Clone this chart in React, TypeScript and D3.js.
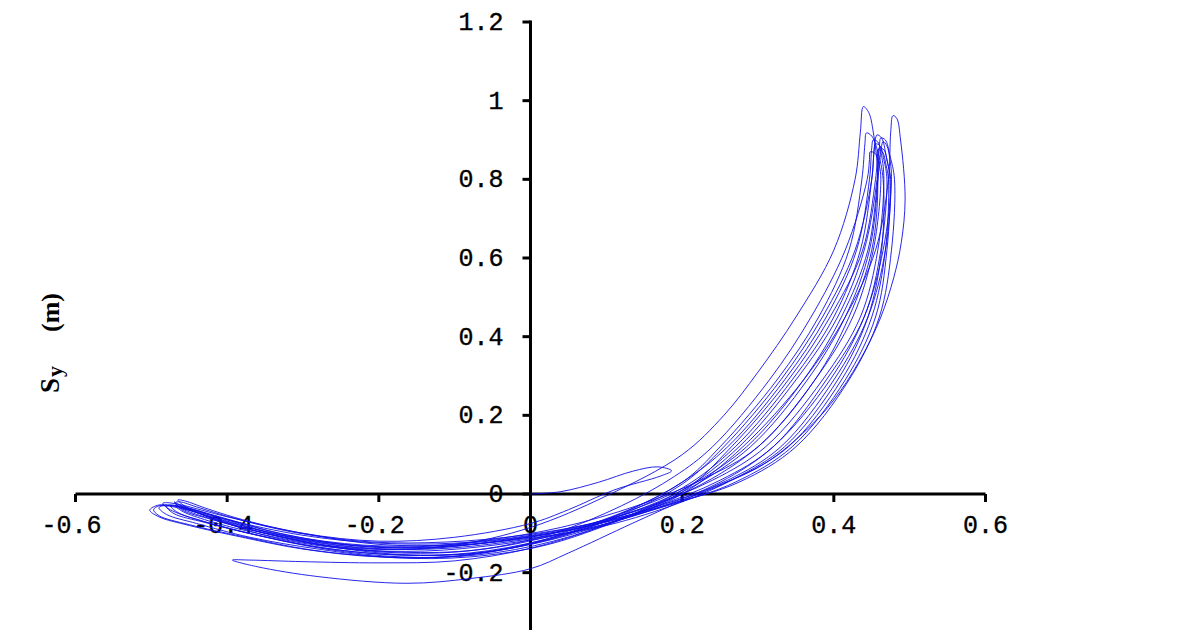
import React from "react";
import * as d3 from "d3";

type Pt = [number, number];

// Axis tick values
const xTicks: number[] = [-0.6, -0.4, -0.2, 0, 0.2, 0.4, 0.6];
const yTicks: number[] = [-0.2, 0, 0.2, 0.4, 0.6, 0.8, 1, 1.2];
const yTickLabels: string[] = ["-0.2", "0", "0.2", "0.4", "0.6", "0.8", "1", "1.2"];
const xTickLabels: string[] = ["-0.6", "-0.4", "-0.2", "0", "0.2", "0.4", "0.6"];

// Trajectory (Sx, Sy) in metres, swing by swing
const startPath: Pt[] = [
  [0, 0], [0.04, 0.006], [0.09, 0.03], [0.135, 0.058], [0.168, 0.069], [0.186, 0.059],
  [0.172, 0.046], [0.11, 0.01], [0.05, -0.04], [0.0, -0.075], [-0.1, -0.11], [-0.2, -0.12],
  [-0.3, -0.1], [-0.38, -0.065], [-0.43, -0.035], [-0.455, -0.018], [-0.465, -0.015],
];
const swing1: Pt[] = [
  [-0.458, -0.028], [-0.43, -0.055], [-0.38, -0.085], [-0.3, -0.118], [-0.2, -0.14], [-0.1, -0.13],
  [0.0, -0.085], [0.1, -0.005], [0.2, 0.1], [0.255, 0.2], [0.3, 0.31], [0.35, 0.45], [0.4, 0.62],
  [0.428, 0.8], [0.435, 0.92], [0.439, 0.985],
  [0.446, 0.97], [0.452, 0.92], [0.458, 0.8], [0.45, 0.62], [0.42, 0.45], [0.375, 0.29], [0.3, 0.12],
  [0.2, 0.0], [0.1, -0.065], [0.0, -0.105], [-0.1, -0.125], [-0.2, -0.125], [-0.3, -0.105],
  [-0.4, -0.065], [-0.455, -0.035], [-0.49, -0.028], [-0.502, -0.041],
];
const swing2: Pt[] = [
  [-0.49, -0.058], [-0.45, -0.08], [-0.38, -0.11], [-0.3, -0.14], [-0.2, -0.16], [-0.1, -0.158],
  [0.0, -0.125], [0.1, -0.065], [0.2, 0.03], [0.25, 0.12], [0.325, 0.29], [0.38, 0.45], [0.42, 0.62],
  [0.437, 0.8], [0.441, 0.89], [0.443, 0.918],
  [0.45, 0.91], [0.458, 0.87], [0.465, 0.8], [0.463, 0.62], [0.445, 0.45], [0.405, 0.29], [0.335, 0.12],
  [0.27, 0.04], [0.2, -0.02], [0.1, -0.08], [0.0, -0.112], [-0.1, -0.13], [-0.2, -0.128], [-0.3, -0.1],
  [-0.4, -0.058], [-0.46, -0.028], [-0.48, -0.022], [-0.485, -0.024],
];
const swing3: Pt[] = [
  [-0.475, -0.04], [-0.44, -0.065], [-0.37, -0.1], [-0.28, -0.135], [-0.18, -0.155], [-0.08, -0.15],
  [0.02, -0.115], [0.12, -0.05], [0.2, 0.015], [0.27, 0.12], [0.345, 0.29], [0.4, 0.45], [0.435, 0.62],
  [0.45, 0.8], [0.454, 0.89], [0.457, 0.913],
  [0.463, 0.905], [0.469, 0.86], [0.474, 0.8], [0.47, 0.62], [0.455, 0.45], [0.415, 0.29], [0.345, 0.12],
  [0.27, 0.03], [0.18, -0.03], [0.08, -0.08], [-0.02, -0.112], [-0.12, -0.13], [-0.22, -0.13],
  [-0.32, -0.105], [-0.4, -0.065], [-0.45, -0.04], [-0.47, -0.03], [-0.475, -0.03],
];
const swing4: Pt[] = [
  [-0.465, -0.047], [-0.43, -0.07], [-0.36, -0.105], [-0.27, -0.14], [-0.17, -0.16], [-0.07, -0.155],
  [0.03, -0.12], [0.13, -0.055], [0.21, 0.02], [0.285, 0.12], [0.36, 0.29], [0.41, 0.45], [0.445, 0.62],
  [0.458, 0.8], [0.462, 0.87], [0.465, 0.896],
  [0.47, 0.885], [0.474, 0.85], [0.476, 0.8], [0.465, 0.62], [0.44, 0.45], [0.395, 0.29], [0.32, 0.12],
  [0.25, 0.03], [0.16, -0.04], [0.06, -0.095], [-0.04, -0.128], [-0.14, -0.145], [-0.24, -0.14],
  [-0.34, -0.11], [-0.41, -0.068], [-0.455, -0.035], [-0.468, -0.022], [-0.47, -0.02],
];
const swing5: Pt[] = [
  [-0.462, -0.035], [-0.43, -0.058], [-0.36, -0.095], [-0.27, -0.13], [-0.17, -0.148], [-0.07, -0.142],
  [0.03, -0.105], [0.13, -0.04], [0.2, 0.03], [0.26, 0.12], [0.335, 0.29], [0.39, 0.45], [0.43, 0.62],
  [0.447, 0.8], [0.45, 0.88], [0.452, 0.9],
  [0.458, 0.895], [0.463, 0.86], [0.466, 0.8], [0.458, 0.62], [0.435, 0.45], [0.385, 0.29], [0.31, 0.12],
  [0.24, 0.035], [0.15, -0.035], [0.05, -0.09], [-0.05, -0.122], [-0.15, -0.14], [-0.25, -0.135],
  [-0.35, -0.1], [-0.42, -0.06], [-0.465, -0.032], [-0.485, -0.03], [-0.49, -0.035],
];
const swing6: Pt[] = [
  [-0.48, -0.052], [-0.44, -0.075], [-0.37, -0.11], [-0.28, -0.14], [-0.18, -0.162], [-0.08, -0.16],
  [0.02, -0.13], [0.12, -0.065], [0.2, 0.0], [0.28, 0.12], [0.36, 0.29], [0.415, 0.45], [0.455, 0.62],
  [0.472, 0.8], [0.475, 0.92], [0.478, 0.962],
  [0.483, 0.955], [0.488, 0.9], [0.494, 0.75], [0.489, 0.64], [0.479, 0.55], [0.462, 0.45],
  [0.44, 0.36], [0.408, 0.26], [0.373, 0.18], [0.307, 0.075], [0.22, 0.0], [0.135, -0.074],
  [0.05, -0.15], [0.0, -0.19], [-0.08, -0.215], [-0.163, -0.227], [-0.28, -0.21], [-0.36, -0.185],
  [-0.393, -0.168],
];
const swing7: Pt[] = [
  [-0.37, -0.168], [-0.3, -0.172], [-0.2, -0.175], [-0.1, -0.17], [0.0, -0.138], [0.1, -0.078],
  [0.2, 0.005], [0.265, 0.12], [0.34, 0.29], [0.395, 0.45], [0.438, 0.62], [0.455, 0.8], [0.458, 0.86],
  [0.46, 0.88],
  [0.466, 0.875], [0.471, 0.84], [0.475, 0.8], [0.468, 0.62], [0.445, 0.45], [0.4, 0.29], [0.33, 0.12],
  [0.26, 0.035], [0.17, -0.03], [0.07, -0.085], [-0.03, -0.117], [-0.13, -0.135], [-0.23, -0.132],
  [-0.33, -0.1], [-0.41, -0.058], [-0.455, -0.033], [-0.465, -0.028], [-0.468, -0.03],
];
const swing8: Pt[] = [
  [-0.46, -0.043], [-0.43, -0.065], [-0.36, -0.1], [-0.27, -0.132], [-0.17, -0.15], [-0.07, -0.142],
  [0.03, -0.1], [0.12, -0.03], [0.19, 0.045], [0.24, 0.12], [0.315, 0.29], [0.37, 0.45], [0.415, 0.62],
  [0.444, 0.8], [0.447, 0.85], [0.448, 0.87],
  [0.455, 0.865], [0.46, 0.835], [0.462, 0.8], [0.452, 0.62], [0.425, 0.45], [0.375, 0.29], [0.3, 0.12],
  [0.23, 0.04], [0.14, -0.03], [0.04, -0.085], [-0.06, -0.118], [-0.16, -0.135], [-0.26, -0.125],
  [-0.35, -0.095], [-0.42, -0.058], [-0.47, -0.033], [-0.49, -0.03], [-0.497, -0.04],
];
const swing9: Pt[] = [
  [-0.49, -0.055], [-0.45, -0.078], [-0.38, -0.108], [-0.29, -0.142], [-0.19, -0.16], [-0.09, -0.157],
  [0.01, -0.122], [0.11, -0.062], [0.2, 0.01], [0.275, 0.12], [0.35, 0.29], [0.405, 0.45], [0.44, 0.62],
  [0.457, 0.8], [0.46, 0.88], [0.462, 0.905],
  [0.468, 0.9], [0.474, 0.86], [0.48, 0.8], [0.476, 0.62], [0.46, 0.45], [0.42, 0.29], [0.35, 0.12],
  [0.275, 0.03], [0.185, -0.025], [0.09, -0.072], [-0.01, -0.105], [-0.11, -0.122], [-0.21, -0.122],
  [-0.31, -0.098], [-0.39, -0.062], [-0.44, -0.033], [-0.462, -0.02], [-0.468, -0.022],
];
const swing10: Pt[] = [
  [-0.46, -0.04], [-0.42, -0.065], [-0.35, -0.1], [-0.26, -0.135], [-0.16, -0.155], [-0.06, -0.148],
  [0.04, -0.108], [0.13, -0.045], [0.2, 0.025], [0.255, 0.12], [0.33, 0.29], [0.385, 0.45], [0.428, 0.62],
  [0.45, 0.8], [0.453, 0.87], [0.455, 0.89],
  [0.461, 0.885], [0.466, 0.85], [0.47, 0.8], [0.462, 0.62], [0.44, 0.45], [0.39, 0.29], [0.32, 0.12],
  [0.25, 0.035], [0.16, -0.035], [0.06, -0.088], [-0.04, -0.12], [-0.14, -0.137], [-0.24, -0.13],
  [-0.34, -0.1], [-0.41, -0.06], [-0.455, -0.035], [-0.475, -0.028], [-0.48, -0.032],
];
const swing11: Pt[] = [
  [-0.47, -0.05], [-0.43, -0.072], [-0.36, -0.105], [-0.27, -0.138], [-0.17, -0.155], [-0.07, -0.15],
  [0.03, -0.115], [0.13, -0.055], [0.21, 0.015], [0.29, 0.12], [0.365, 0.29], [0.415, 0.45],
  [0.447, 0.62], [0.458, 0.8], [0.458, 0.85], [0.458, 0.875],
  [0.464, 0.87], [0.469, 0.835], [0.472, 0.8], [0.468, 0.62], [0.45, 0.45], [0.41, 0.29], [0.34, 0.12],
  [0.265, 0.035], [0.17, -0.035], [0.07, -0.09], [-0.03, -0.122], [-0.13, -0.14], [-0.23, -0.135],
  [-0.33, -0.105], [-0.415, -0.062], [-0.46, -0.035],
];

const trajectory: Pt[] = [
  ...startPath, ...swing1, ...swing2, ...swing3, ...swing4, ...swing5, ...swing6,
  ...swing7, ...swing8, ...swing9, ...swing10, ...swing11,
];

const W = 1200;
const H = 630;

export default function App() {
  const x = d3.scaleLinear().domain([-0.6, 0.6]).range([75.5, 985.5]);
  const y = d3.scaleLinear().domain([0, 1.2]).range([494, 22]);
  const line = d3
    .line<Pt>()
    .x((d) => x(d[0]))
    .y((d) => y(d[1]))
    .curve(d3.curveCatmullRom.alpha(0.5));

  const x0 = x(0);
  const y0 = y(0);
  const tickFont = "'Liberation Mono', 'Courier New', monospace";
  const titleFont = "'Liberation Serif', 'Times New Roman', serif";

  return (
    <svg
      width={W}
      height={H}
      viewBox={`0 0 ${W} ${H}`}
      style={{ position: "absolute", left: 0, top: 0, background: "#fff" }}
    >
      <rect x={0} y={0} width={W} height={H} fill="#fff" />
      {/* x axis */}
      <line x1={x(-0.6)} x2={x(0.6)} y1={y0} y2={y0} stroke="#000" strokeWidth={3} />
      {xTicks.map((t) => (
        <line key={"xt" + t} x1={x(t)} x2={x(t)} y1={y0} y2={y0 + 8} stroke="#000" strokeWidth={3} />
      ))}
      {xTicks.map((t, i) => (
        <text
          key={"xl" + t}
          x={x(t)}
          dx={t < 0 ? -4 : 0}
          y={y0 + 39}
          textAnchor="middle"
          fontFamily={tickFont}
          fontSize={25}
          fill="#000"
          stroke="#000"
          strokeWidth={0.35}
        >
          {xTickLabels[i]}
        </text>
      ))}
      {/* y axis */}
      <line x1={x0} x2={x0} y1={y(1.2) - 1.5} y2={H + 5} stroke="#000" strokeWidth={3} />
      {yTicks.map((t) => (
        <line key={"yt" + t} x1={x0 - 8} x2={x0} y1={y(t)} y2={y(t)} stroke="#000" strokeWidth={3} />
      ))}
      {yTicks.map((t, i) => (
        <text
          key={"yl" + t}
          x={x0 - 27}
          y={y(t) + 8}
          textAnchor="end"
          fontFamily={tickFont}
          fontSize={25}
          fill="#000"
          stroke="#000"
          strokeWidth={0.35}
        >
          {yTickLabels[i]}
        </text>
      ))}
      {/* y title */}
      <g transform="translate(59,393) rotate(-90)">
        <text x={0} y={0} fontFamily={titleFont} fontWeight="bold" fontSize={27} fill="#000">
          S
        </text>
        <text x={16} y={3} fontFamily={titleFont} fontWeight="bold" fontSize={22} fill="#000">
          y
        </text>
        <text x={61} y={0} fontFamily={titleFont} fontWeight="bold" fontSize={26} fill="#000">
          (m)
        </text>
      </g>
      {/* trajectory */}
      <path d={line(trajectory) || ""} fill="none" stroke="#1010e8" strokeWidth={0.9} strokeLinejoin="round" />
    </svg>
  );
}
